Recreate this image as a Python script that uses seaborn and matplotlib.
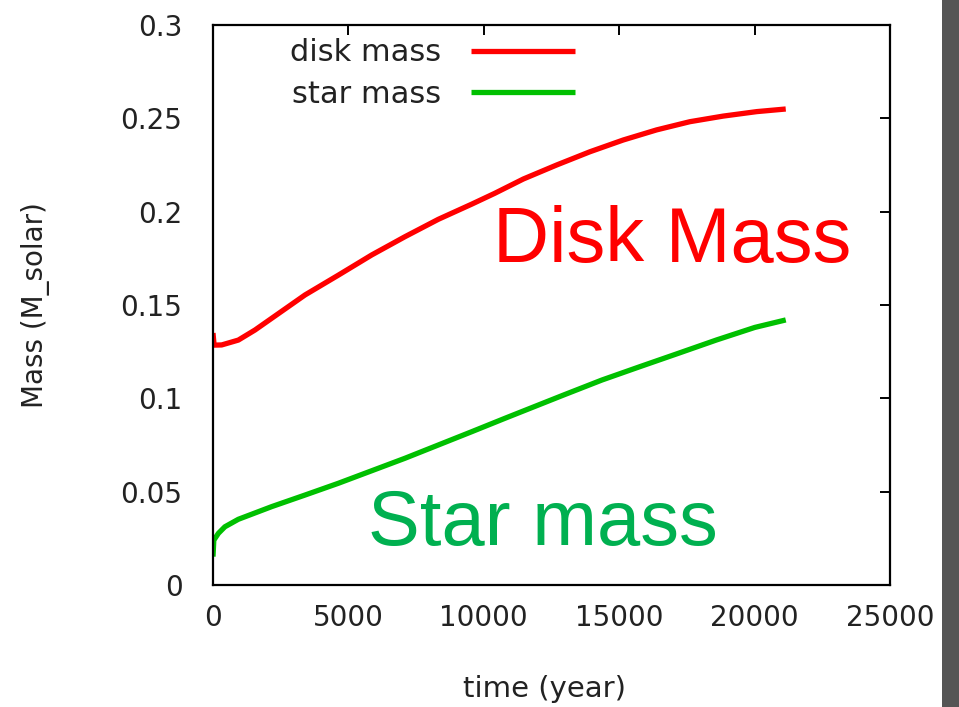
import matplotlib
matplotlib.use("Agg")
import matplotlib.pyplot as plt
import seaborn as sns
import pandas as pd
from matplotlib.patches import Rectangle

# ---- data ----
disk_time = [0, 40, 320, 935, 1550, 2170, 3400, 4630, 5860, 7090, 8320, 9550,
             10400, 11460, 12690, 13920, 15150, 16380, 17610, 18840, 20080,
             21150]
disk_mass = [0.135, 0.1285, 0.1286, 0.1312, 0.1366, 0.1429, 0.1554, 0.166,
             0.1768, 0.1866, 0.1959, 0.2040, 0.2098, 0.2175, 0.2250, 0.2321,
             0.2384, 0.2438, 0.2482, 0.2512, 0.2536, 0.255]
star_time = [0, 30, 200, 440, 935, 2170, 3400, 4630, 5860, 7090, 8320, 9550,
             10780, 12950, 14360, 15770, 17180, 18600, 20010, 21150]
star_mass = [0.0152, 0.024, 0.0277, 0.0312, 0.0352, 0.042, 0.0482, 0.0545,
             0.0612, 0.0679, 0.075, 0.0821, 0.0893, 0.1018, 0.1098, 0.117,
             0.1241, 0.1313, 0.138, 0.142]
series_labels = ["disk mass", "star mass"]
series_colors = ["#ff0000", "#00c000"]
x_ticks = [0, 5000, 10000, 15000, 20000, 25000]
y_ticks = [0, 0.05, 0.1, 0.15, 0.2, 0.25, 0.3]
y_tick_labels = ["0", "0.05", "0.1", "0.15", "0.2", "0.25", "0.3"]

df = pd.concat([
    pd.DataFrame({"time": disk_time, "mass": disk_mass, "series": series_labels[0]}),
    pd.DataFrame({"time": star_time, "mass": star_mass, "series": series_labels[1]}),
], ignore_index=True)

sns.set_theme(style="white")
plt.rcParams["font.family"] = ["DejaVu Sans"]

fig = plt.figure(figsize=(9.59, 7.07), dpi=100)
fig.patch.set_facecolor("white")
ax = fig.add_axes([213/959, 1-585/707, 677/959, 560/707])

sns.lineplot(data=df, x="time", y="mass", hue="series", palette=series_colors,
             hue_order=series_labels, estimator=None, sort=False, ax=ax,
             linewidth=3.8, legend=True)
for ln in ax.get_lines():
    ln.set_solid_capstyle("butt")
    ln.set_solid_joinstyle("round")

ax.set_xlim(0, 25000)
ax.set_ylim(0, 0.3)
ax.set_xticks(x_ticks)
ax.set_xticklabels([str(v) for v in x_ticks])
ax.set_yticks(y_ticks)
ax.set_yticklabels(y_tick_labels)

for s in ax.spines.values():
    s.set_visible(True)
    s.set_color("black")
    s.set_linewidth(1.6)

ax.tick_params(axis="both", which="major", direction="in", length=7, width=1.4,
               color="black", top=True, right=True, labelsize=20,
               labelcolor="#222222")
ax.tick_params(axis="y", pad=22)
ax.tick_params(axis="x", pad=14)

ax.set_xlabel("time (year)", fontsize=21, color="#222222")
ax.set_ylabel("Mass (M_solar)", fontsize=20, color="#222222")
ax.xaxis.set_label_coords(0.49, -0.16)
ax.yaxis.set_label_coords(-0.241, 0.5)

leg = ax.legend(loc="upper left", bbox_to_anchor=(0.1137, 0.976), frameon=False,
                markerfirst=False, handlelength=3.4, handletextpad=0.98,
                labelspacing=0.41, borderpad=0, borderaxespad=0, fontsize=22)
for t in leg.get_texts():
    t.set_color("#222222")
for h in leg.get_lines():
    h.set_linewidth(3.8)

ax.text(10340, 0.173, "Disk Mass", color="#ff0000", fontsize=56,
        family=["Liberation Sans", "DejaVu Sans"], va="baseline", ha="left")
ax.text(5724, 0.0214, "Star mass", color="#00b050", fontsize=56,
        family=["Liberation Sans", "DejaVu Sans"], va="baseline", ha="left")

# slide background strip at right edge
fig.patches.append(Rectangle((942/959, 0), 17/959, 1, transform=fig.transFigure,
                             facecolor="#555555", edgecolor="none", zorder=0))

fig.savefig("out.png", dpi=100)
